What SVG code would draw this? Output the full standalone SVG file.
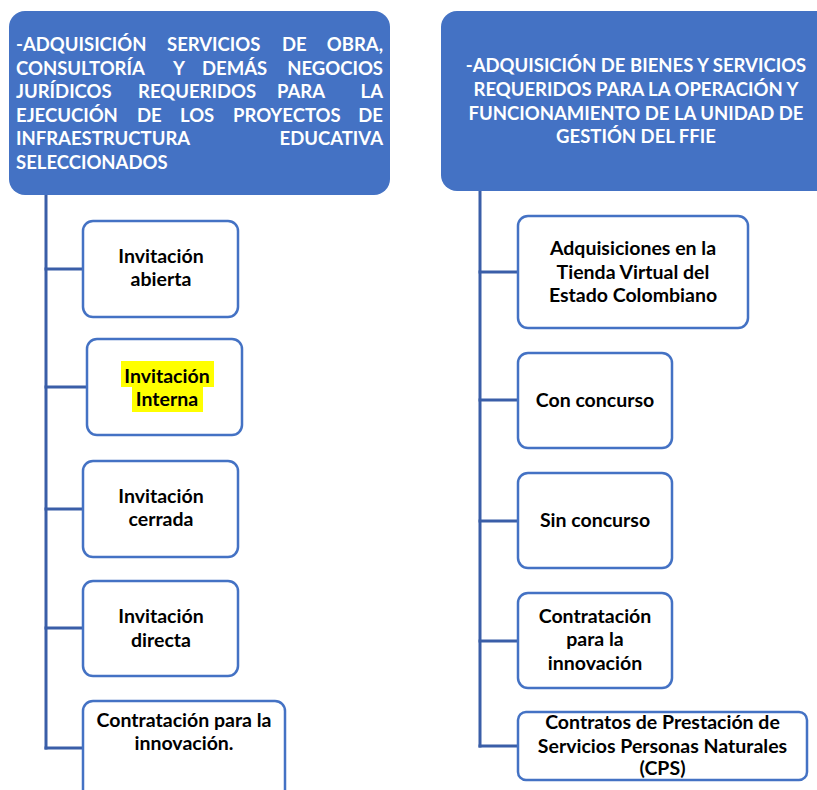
<svg xmlns="http://www.w3.org/2000/svg" width="817" height="790" viewBox="0 0 817 790">
<style>
.hdr{fill:#4472C4}
.ht{fill:#fff;font-family:Lato,"Open Sans",sans-serif;font-weight:bold;font-size:18.5px}
.node rect.b{fill:#fff;stroke:#4472C4;stroke-width:2.5}
.nt{fill:#000;font-family:Lato,"Open Sans",sans-serif;font-weight:bold;font-size:19.5px;text-anchor:middle}
.conn line{stroke:#3A5EA8;stroke-width:3}
</style>
<rect width="817" height="790" fill="#fff"/>
<g id="conn" class="conn">
<line x1="46" y1="195" x2="46" y2="749.5"/>
<line x1="44.5" y1="269" x2="83" y2="269"/>
<line x1="44.5" y1="387" x2="87" y2="387"/>
<line x1="44.5" y1="509" x2="83" y2="509"/>
<line x1="44.5" y1="628" x2="83" y2="628"/>
<line x1="44.5" y1="748" x2="83" y2="748"/>
<line x1="480" y1="191" x2="480" y2="747.5"/>
<line x1="478.5" y1="272" x2="518" y2="272"/>
<line x1="478.5" y1="400" x2="518" y2="400"/>
<line x1="478.5" y1="521" x2="518" y2="521"/>
<line x1="478.5" y1="641" x2="518" y2="641"/>
<line x1="478.5" y1="746" x2="518" y2="746"/>
</g>
<g id="hdr-left">
<rect class="hdr" x="9" y="11" width="381" height="184" rx="16"/>
<text class="ht" y="51"><tspan x="16">-ADQUISICIÓN</tspan><tspan x="167">SERVICIOS</tspan><tspan x="282">DE</tspan><tspan x="383" text-anchor="end">OBRA,</tspan></text>
<text class="ht" y="74.5"><tspan x="16">CONSULTORÍA</tspan><tspan x="173">Y</tspan><tspan x="202">DEMÁS</tspan><tspan x="383" text-anchor="end">NEGOCIOS</tspan></text>
<text class="ht" y="98"><tspan x="16">JURÍDICOS</tspan><tspan x="138">REQUERIDOS</tspan><tspan x="277">PARA</tspan><tspan x="383" text-anchor="end">LA</tspan></text>
<text class="ht" y="121.5"><tspan x="16">EJECUCIÓN</tspan><tspan x="137">DE</tspan><tspan x="180">LOS</tspan><tspan x="233">PROYECTOS</tspan><tspan x="383" text-anchor="end">DE</tspan></text>
<text class="ht" y="145"><tspan x="16">INFRAESTRUCTURA</tspan><tspan x="383" text-anchor="end">EDUCATIVA</tspan></text>
<text class="ht" y="168.5"><tspan x="16">SELECCIONADOS</tspan></text>
</g>
<g id="hdr-right">
<rect class="hdr" x="441" y="11" width="400" height="180" rx="16"/>
<text class="ht" text-anchor="middle" x="636" y="72">-ADQUISICIÓN DE BIENES Y SERVICIOS</text>
<text class="ht" text-anchor="middle" x="636" y="96">REQUERIDOS PARA LA OPERACIÓN Y</text>
<text class="ht" text-anchor="middle" x="636" y="119.5">FUNCIONAMIENTO DE LA UNIDAD DE</text>
<text class="ht" text-anchor="middle" x="636" y="143">GESTIÓN DEL FFIE</text>
</g>
<g id="n-abierta" class="node">
<rect class="b" x="83" y="221" width="155" height="96" rx="10"/>
<text class="nt" x="161" y="263">Invitación</text>
<text class="nt" x="161" y="286">abierta</text>
</g>
<g id="n-interna" class="node">
<rect class="b" x="87" y="339" width="155" height="96" rx="10"/>
<rect x="121" y="361" width="93" height="26" fill="#FFFF00"/>
<rect x="132" y="387" width="71" height="25" fill="#FFFF00"/>
<text class="nt" x="167" y="383">Invitación</text>
<text class="nt" x="167" y="406">Interna</text>
</g>
<g id="n-cerrada" class="node">
<rect class="b" x="83" y="461" width="155" height="96" rx="10"/>
<text class="nt" x="161" y="503">Invitación</text>
<text class="nt" x="161" y="526">cerrada</text>
</g>
<g id="n-directa" class="node">
<rect class="b" x="83" y="581" width="155" height="95" rx="10"/>
<text class="nt" x="161" y="623">Invitación</text>
<text class="nt" x="161" y="647">directa</text>
</g>
<g id="n-innov-left" class="node">
<rect class="b" x="83" y="701" width="202" height="100" rx="10"/>
<text class="nt" x="184" y="727">Contratación para la</text>
<text class="nt" x="184" y="750">innovación.</text>
</g>
<g id="n-tienda" class="node">
<rect class="b" x="518" y="216" width="230" height="112" rx="10"/>
<text class="nt" x="633" y="255">Adquisiciones en la</text>
<text class="nt" x="633" y="279">Tienda Virtual del</text>
<text class="nt" x="633" y="302">Estado Colombiano</text>
</g>
<g id="n-con" class="node">
<rect class="b" x="518" y="353" width="154" height="95" rx="10"/>
<text class="nt" x="595" y="407">Con concurso</text>
</g>
<g id="n-sin" class="node">
<rect class="b" x="518" y="473" width="154" height="95" rx="10"/>
<text class="nt" x="595" y="527">Sin concurso</text>
</g>
<g id="n-innov-right" class="node">
<rect class="b" x="518" y="593" width="154" height="95" rx="10"/>
<text class="nt" x="595" y="623">Contratación</text>
<text class="nt" x="595" y="646">para la</text>
<text class="nt" x="595" y="670">innovación</text>
</g>
<g id="n-cps" class="node">
<rect class="b" x="518" y="712" width="289" height="68" rx="8"/>
<text class="nt" x="662.5" y="729">Contratos de Prestación de</text>
<text class="nt" x="662.5" y="753">Servicios Personas Naturales</text>
<text class="nt" x="662.5" y="775">(CPS)</text>
</g>
</svg>
